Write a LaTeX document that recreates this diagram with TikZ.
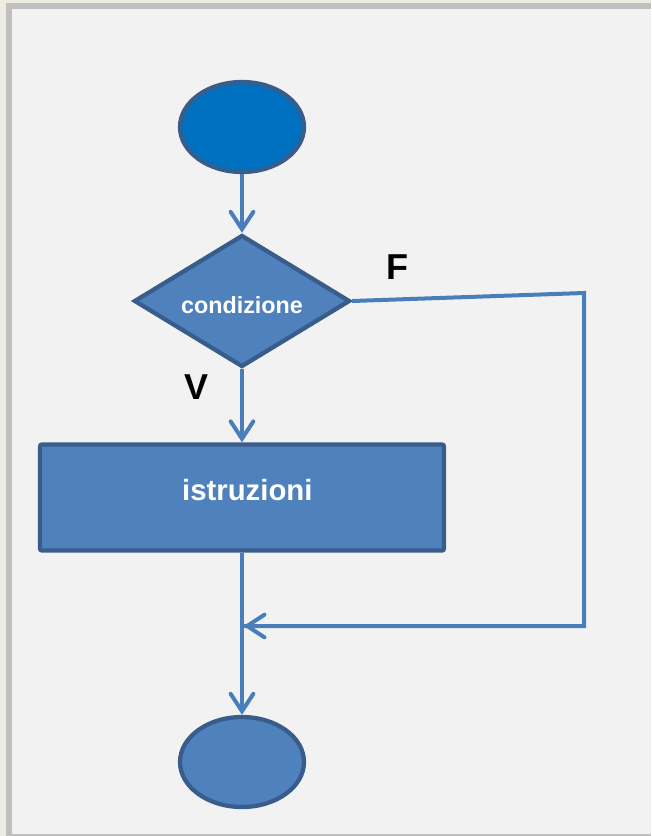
\documentclass[tikz,border=0pt]{standalone}
\usepackage{fontspec}
\setmainfont{Liberation Sans}
\usetikzlibrary{shapes.geometric,arrows.meta}
\definecolor{outerbg}{HTML}{EEECE1}
\definecolor{framegray}{HTML}{BFBFBF}
\definecolor{panelbg}{HTML}{F2F2F2}
\definecolor{startfill}{HTML}{0070C0}
\definecolor{shapefill}{HTML}{4F81BD}
\definecolor{shapeline}{HTML}{385D8A}
\definecolor{flowline}{HTML}{4A7EBB}
\tikzset{
  shapebase/.style={draw=shapeline, line width=3.2pt, inner sep=0pt, text=white, font=\bfseries},
  terminal/.style={shapebase, ellipse, minimum width=93pt, minimum height=67.5pt},
  decision/.style={shapebase, diamond, aspect=1.62, minimum width=162pt, minimum height=99pt, fill=shapefill, font=\fontsize{17.5}{20}\selectfont\bfseries, text height=18pt, text depth=0pt},
  processbox/.style={shapebase, rectangle, rounded corners=1.5pt, minimum width=303pt, minimum height=79.5pt, fill=shapefill, font=\fontsize{22}{26}\selectfont\bfseries, text height=16pt, text depth=12pt},
  flow/.style={draw=flowline, line width=3pt, -{Straight Barb[length=13pt,width=17pt,line width=3pt,line cap=round]}},
  flowplain/.style={draw=flowline, line width=3pt},
  branchlabel/.style={font=\fontsize{27}{30}\selectfont\bfseries, text=black, inner sep=0pt}
}
\begin{document}
\begin{tikzpicture}[x=0.75pt,y=-0.75pt]
  \useasboundingbox (0,0) rectangle (651,836);
  \fill[outerbg] (0,0) rectangle (651,836);
  \fill[framegray] (6,3) rectangle (651,836);
  \fill[panelbg] (12,9) rectangle (651,834);

  \node[terminal, fill=startfill] (start) at (242,127) {};
  \node[decision] (cond) at (242,301) {condizione};
  \node[processbox] (body) at (242,497.5) {\hspace*{8pt}istruzioni};
  \node[terminal, fill=shapefill] (end) at (242,762) {};

  \node[branchlabel] (flabel) at (397,267) {F};
  \node[branchlabel] (vlabel) at (197,387) {V};

  \coordinate (fcorner1) at (584,293);
  \coordinate (fcorner2) at (584,626);
  \coordinate (join) at (243.5,626);

  \draw[flow] (start.south) -- (cond.north);
  \draw[flow] (cond.south) -- (body.north);
  \draw[flow] (body.south) -- (end.north);
  \draw[flowplain, line join=miter] (cond.east) -- (fcorner1) -- (fcorner2) -- (join);
  \draw[flow] (fcorner2) -- (join);
\end{tikzpicture}
\end{document}
